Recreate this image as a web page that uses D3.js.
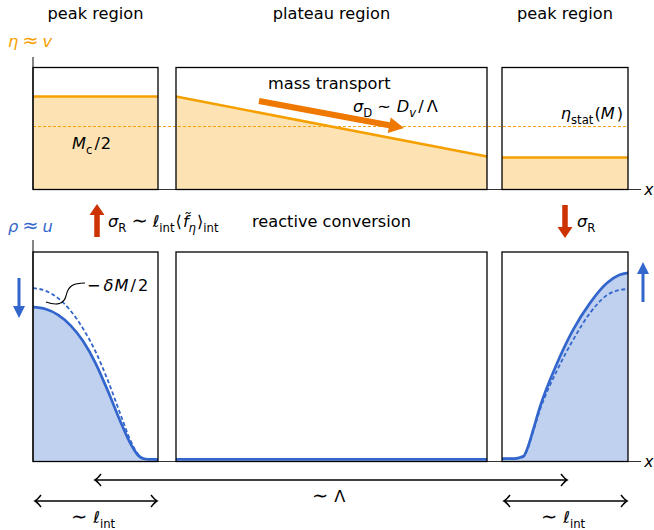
<!DOCTYPE html>
<html>
<head>
<meta charset="utf-8">
<script src="https://cdn.jsdelivr.net/npm/d3@7"></script>
<style>
  body { margin: 0; background: #fff; }
  svg { display: block; font-family: "DejaVu Sans", sans-serif; }
</style>
</head>
<body>
<svg id="chart" width="654" height="530"></svg>
<script>
// region labels and x extents of the three boxes (in units of l_int)
const regionNames = ["peak region", "plateau region", "peak region"];
const regionBounds = [[0, 1], [1.144, 3.632], [3.752, 4.76]];
const axisEnd = 4.865;

// eta ~ v (top row)
const etaPeakLeft = 0.762;
const etaPlateau = [0.762, 0.27];
const etaPeakRight = 0.262;
const etaStat = 0.516;

// rho ~ u (bottom row), x as fraction of the peak box
const rhoLeftX      = [0, 0.1, 0.2, 0.3, 0.4, 0.5, 0.6, 0.7, 0.78, 0.84, 0.9, 1];
const rhoLeftSolid  = [0.737, 0.728, 0.7, 0.65, 0.575, 0.47, 0.335, 0.19, 0.085, 0.03, 0.012, 0.01];
const rhoLeftDashed = [0.828, 0.815, 0.78, 0.72, 0.635, 0.525, 0.385, 0.225, 0.1, 0.035, 0.012, 0.01];
const rhoRightX      = [0, 0.1, 0.17, 0.2, 0.246, 0.3, 0.437, 0.563, 0.698, 0.833, 0.93, 1];
const rhoRightSolid  = [0.014, 0.014, 0.025, 0.06, 0.148, 0.258, 0.469, 0.627, 0.756, 0.852, 0.89, 0.9];
const rhoRightDashed = [0.014, 0.014, 0.022, 0.055, 0.14, 0.244, 0.435, 0.579, 0.708, 0.794, 0.818, 0.823];
const rhoPlateau = 0.01;

const orange = "#f5a000", orangeFill = "#fde3b3", orangeDark = "#ee7800";
const blue = "#3366cc", blueFill = "#c0d0ef", red = "#cc3300";
const fs = 16.2;

const svg = d3.select("#chart");
const x = d3.scaleLinear().domain([0, 4.76]).range([33, 628]);
const yEta = d3.scaleLinear().domain([0, 1]).range([189.5, 67.5]);
const yRho = d3.scaleLinear().domain([0, 1]).range([461.5, 252]);

// text with simple sub/italic pieces: [text, style, dx]
function mathText(sel, px, py, parts, opts = {}) {
    const t = sel.append("text")
        .attr("x", px).attr("y", py)
        .attr("font-size", opts.size || fs)
        .attr("fill", opts.color || "#000")
        .attr("text-anchor", opts.anchor || "start");
    let shift = 0;
    parts.forEach(([s, st, dx]) => {
        const sub = st === "sub" || st === "subi";
        const target = sub ? 4.5 : 0;
        const ts = t.append("tspan").text(s).attr("dy", target - shift);
        if (dx) ts.attr("dx", dx);
        shift = target;
        if (sub) ts.attr("font-size", "0.72em");
        if (st === "big") ts.attr("font-size", "1.2em");
        if (st === "i" || st === "subi") ts.attr("font-style", "italic");
    });
    return t;
}

function blockArrow(sel, x1, y1, x2, y2, shaftW, headW, headL, color) {
    const dx = x2 - x1, dy = y2 - y1, len = Math.hypot(dx, dy);
    const ux = dx / len, uy = dy / len, nx = -uy, ny = ux;
    const bx = x2 - ux * headL, by = y2 - uy * headL;
    const pts = [
        [x1 + nx * shaftW / 2, y1 + ny * shaftW / 2],
        [bx + nx * shaftW / 2, by + ny * shaftW / 2],
        [bx + nx * headW / 2, by + ny * headW / 2],
        [x2, y2],
        [bx - nx * headW / 2, by - ny * headW / 2],
        [bx - nx * shaftW / 2, by - ny * shaftW / 2],
        [x1 - nx * shaftW / 2, y1 - ny * shaftW / 2]
    ];
    sel.append("path").attr("d", "M" + pts.join("L") + "Z").attr("fill", color);
}

function dimArrow(sel, xa, xb, yy) {
    sel.append("line").attr("x1", xa + 1).attr("x2", xb - 1).attr("y1", yy).attr("y2", yy)
        .attr("stroke", "#000").attr("stroke-width", 1.5);
    [[xa, 1], [xb, -1]].forEach(([tx, s]) => {
        sel.append("path")
            .attr("d", `M${tx + s * 6},${yy - 6} Q${tx + s * 2},${yy - 1} ${tx},${yy} Q${tx + s * 2},${yy + 1} ${tx + s * 6},${yy + 6}`)
            .attr("fill", "none").attr("stroke", "#000").attr("stroke-width", 1.5);
    });
}

// ---------- top row: eta ----------
const topRow = svg.append("g");
topRow.append("rect")
    .attr("x", x(regionBounds[0][0])).attr("width", x(regionBounds[0][1]) - x(regionBounds[0][0]))
    .attr("y", yEta(etaPeakLeft)).attr("height", yEta(0) - yEta(etaPeakLeft))
    .attr("fill", orangeFill);
topRow.append("path")
    .attr("d", d3.area().x(d => x(d[0])).y0(yEta(0)).y1(d => yEta(d[1]))(
        [[regionBounds[1][0], etaPlateau[0]], [regionBounds[1][1], etaPlateau[1]]]))
    .attr("fill", orangeFill);
topRow.append("rect")
    .attr("x", x(regionBounds[2][0])).attr("width", x(regionBounds[2][1]) - x(regionBounds[2][0]))
    .attr("y", yEta(etaPeakRight)).attr("height", yEta(0) - yEta(etaPeakRight))
    .attr("fill", orangeFill);

topRow.append("line")
    .attr("x1", x(0)).attr("x2", x(regionBounds[2][1]))
    .attr("y1", yEta(etaStat)).attr("y2", yEta(etaStat))
    .attr("stroke", orange).attr("stroke-width", 1).attr("stroke-dasharray", "3,2");

const etaLines = [
    [[regionBounds[0][0], etaPeakLeft], [regionBounds[0][1], etaPeakLeft]],
    [[regionBounds[1][0], etaPlateau[0]], [regionBounds[1][1], etaPlateau[1]]],
    [[regionBounds[2][0], etaPeakRight], [regionBounds[2][1], etaPeakRight]]
];
topRow.selectAll(".eta")
    .data(etaLines)
    .join("path")
    .attr("class", "eta")
    .attr("d", d3.line().x(d => x(d[0])).y(d => yEta(d[1])))
    .attr("fill", "none").attr("stroke", orange).attr("stroke-width", 2.6);

// ---------- bottom row: rho ----------
const botRow = svg.append("g");
const leftPts = (vals) => rhoLeftX.map((f, i) => [regionBounds[0][0] + f * (regionBounds[0][1] - regionBounds[0][0]), vals[i]]);
const rightPts = (vals) => rhoRightX.map((f, i) => [regionBounds[2][0] + f * (regionBounds[2][1] - regionBounds[2][0]), vals[i]]);
const rhoArea = d3.area().x(d => x(d[0])).y0(yRho(0)).y1(d => yRho(d[1])).curve(d3.curveMonotoneX);
const rhoLine = d3.line().x(d => x(d[0])).y(d => yRho(d[1])).curve(d3.curveMonotoneX);

botRow.selectAll(".fill")
    .data([leftPts(rhoLeftSolid), rightPts(rhoRightSolid)])
    .join("path").attr("class", "fill")
    .attr("d", rhoArea).attr("fill", blueFill);

botRow.selectAll(".dash")
    .data([leftPts(rhoLeftDashed), rightPts(rhoRightDashed)])
    .join("path").attr("class", "dash")
    .attr("d", rhoLine).attr("fill", "none")
    .attr("stroke", blue).attr("stroke-width", 1.8).attr("stroke-dasharray", "4,2.5");

botRow.selectAll(".solid")
    .data([leftPts(rhoLeftSolid), rightPts(rhoRightSolid),
        [[regionBounds[1][0], rhoPlateau], [regionBounds[1][1], rhoPlateau]]])
    .join("path").attr("class", "solid")
    .attr("d", rhoLine).attr("fill", "none")
    .attr("stroke", blue).attr("stroke-width", 2.7);

// ---------- boxes and axes ----------
[[yEta, 57], [yRho, 240]].forEach(([y, yTop]) => {
    svg.append("line").attr("x1", x(0)).attr("x2", x(axisEnd))
        .attr("y1", y(0)).attr("y2", y(0)).attr("stroke", "#333").attr("stroke-width", 1.2);
    svg.append("line").attr("x1", x(0)).attr("x2", x(0))
        .attr("y1", yTop).attr("y2", y(0)).attr("stroke", "#333").attr("stroke-width", 1.2);
    svg.append("g").selectAll("rect")
        .data(regionBounds)
        .join("rect")
        .attr("x", d => x(d[0])).attr("width", d => x(d[1]) - x(d[0]))
        .attr("y", y(1)).attr("height", y(0) - y(1))
        .attr("fill", "none").attr("stroke", "#000").attr("stroke-width", 1.3);
    mathText(svg, x(axisEnd) + 3, y(0) + 5, [["x", "i"]], {size: 15.5});
});

// region titles
svg.append("g").selectAll("text")
    .data(regionNames)
    .join("text")
    .attr("x", (d, i) => x((regionBounds[i][0] + regionBounds[i][1]) / 2))
    .attr("y", 19)
    .attr("text-anchor", "middle")
    .attr("font-size", fs)
    .text(d => d);

// axis names
mathText(svg, 8, 47, [["η", "i"], ["≈", "big", 4], ["v", "i", 4]], {color: orange});
mathText(svg, 8, 232, [["ρ", "i"], ["≈", "big", 4], ["u", "i", 4]], {color: blue});

// top annotations
mathText(svg, 72, 149, [["M", "i"], ["c", "sub"], ["/", "", 2], ["2", "", 1]]);
mathText(svg, 623, 119, [["η", "i"], ["stat", "sub"], ["(", "", 1], ["M", "i"], [")", "", 2]], {anchor: "end"});
svg.append("text").attr("x", 268).attr("y", 89).attr("font-size", fs).text("mass transport");
mathText(svg, 353, 112, [["σ", "i"], ["D", "sub"], ["∼", "", 5], ["D", "i", 6], ["v", "subi"], ["/", "", 2], ["Λ", "", 3]]);
blockArrow(svg, 259, 101, 404, 128, 6, 16, 15, orangeDark);

// reactive conversion
blockArrow(svg, 97, 237, 97, 204, 5.5, 15, 11, red);
blockArrow(svg, 565, 205, 565, 238, 5.5, 15, 11, red);
mathText(svg, 108, 227, [["σ", "i"], ["R", "sub"], ["∼", "big", 5], ["ℓ", "i", 5], ["int", "sub"], ["⟨", "", 1],
    ["f\u0303", "i", 1], ["η", "subi"], ["⟩", "", 1], ["int", "sub"]]);
svg.append("text").attr("x", 252).attr("y", 227).attr("font-size", fs).text("reactive conversion");
mathText(svg, 577, 227, [["σ", "i"], ["R", "sub"]]);

// change of peak heights
blockArrow(svg, 19, 278, 19, 318, 3, 12, 12, blue);
blockArrow(svg, 643, 302, 643, 262, 3, 12, 12, blue);
svg.append("path")
    .attr("d", "M46,302 C57,306 64,304 66,296 C68,286 73,283 85,283")
    .attr("fill", "none").attr("stroke", "#000").attr("stroke-width", 1.1);
mathText(svg, 87, 291, [["−", ""], ["δ", "i", 3], ["M", "i", 1], ["/", "", 2], ["2", "", 2]]);

// length scales
dimArrow(svg, 95, 567, 480);
mathText(svg, 312, 502, [["∼", "big"], ["Λ", "", 6]]);
dimArrow(svg, x(regionBounds[0][0]) + 2, x(regionBounds[0][1]) - 1, 501);
mathText(svg, 71, 523, [["∼", "big"], ["ℓ", "i", 6], ["int", "sub"]]);
dimArrow(svg, x(regionBounds[2][0]) + 2, x(regionBounds[2][1]) - 1, 501);
mathText(svg, 541, 523, [["∼", "big"], ["ℓ", "i", 6], ["int", "sub"]]);
</script>
</body>
</html>
